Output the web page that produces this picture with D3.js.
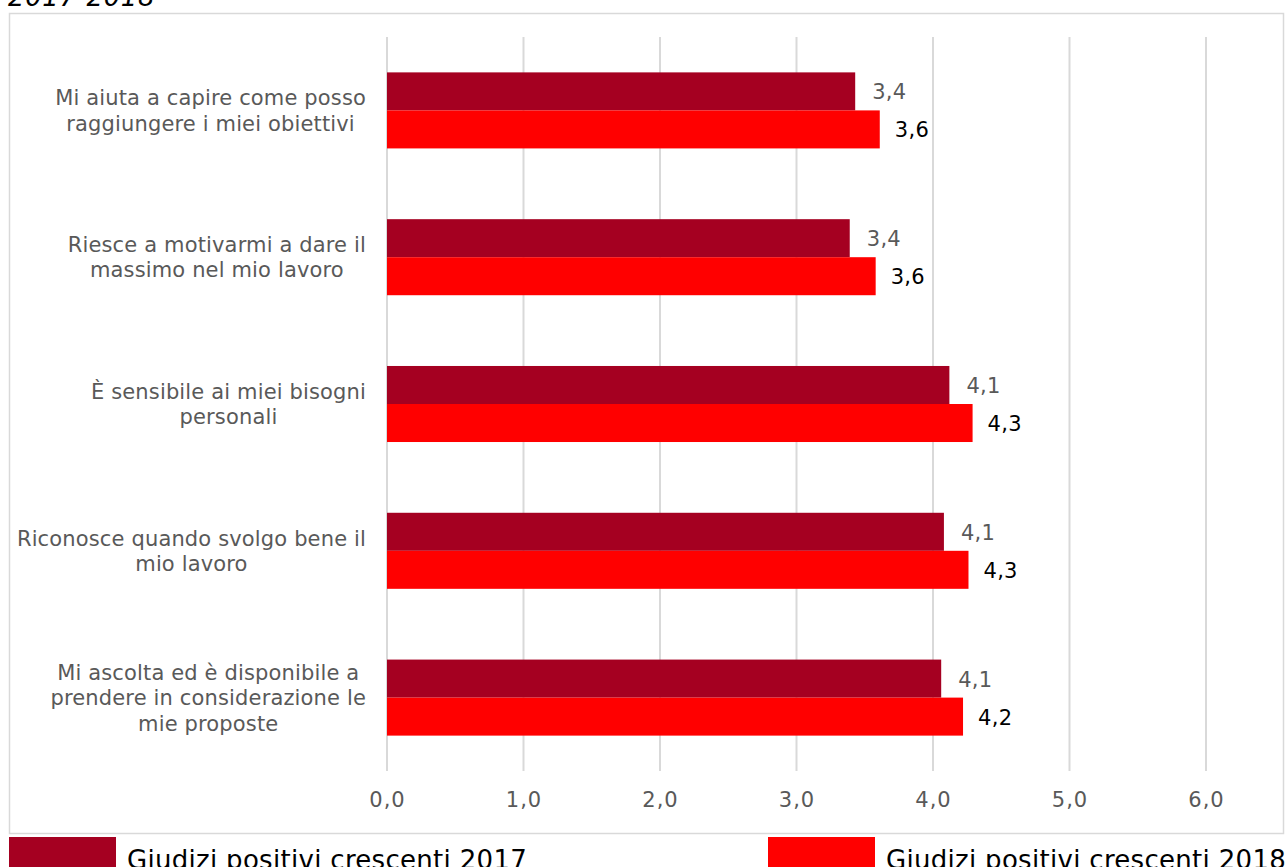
<!DOCTYPE html>
<html><head><meta charset="utf-8">
<script src="https://cdn.jsdelivr.net/npm/d3@7"></script>
<style>body{margin:0;background:#fff;}svg{display:block;font-family:"DejaVu Sans",Verdana,sans-serif;}</style>
</head><body><svg id="c" width="1286" height="867"></svg>
<script>
const categories = [
  ["Mi aiuta a capire come posso", "raggiungere i miei obiettivi"],
  ["Riesce a motivarmi a dare il", "massimo nel mio lavoro"],
  ["È sensibile ai miei bisogni", "personali"],
  ["Riconosce quando svolgo bene il", "mio lavoro"],
  ["Mi ascolta ed è disponibile a", "prendere in considerazione le", "mie proposte"]
];
const values2017 = [3.43, 3.39, 4.12, 4.08, 4.06];
const values2018 = [3.61, 3.58, 4.29, 4.26, 4.22];
const seriesNames = ["Giudizi positivi crescenti 2017", "Giudizi positivi crescenti 2018"];
const tickValues = [0, 1, 2, 3, 4, 5, 6];
const colors = ["#A50021", "#FF0000"];

const svg = d3.select("#c");
const fmt = v => d3.format(".1f")(v).replace(".", ",");

// title fragment
svg.append("text").attr("x", 8).attr("y", 6).attr("font-size", 26).attr("letter-spacing", 0.6)
  .attr("font-style", "italic").attr("fill", "#000").text("2017-2018");

// frame
svg.append("rect").attr("x", 9.5).attr("y", 13.5).attr("width", 1274).attr("height", 820).attr("fill", "none").attr("stroke", "#d9d9d9").attr("stroke-width", 1.5);

const x = d3.scaleLinear().domain([0, 6]).range([387, 1206]);
const y = d3.scaleBand().domain(d3.range(categories.length)).range([37, 771]).paddingInner(0.482).paddingOuter(0.241);
const sub = d3.scaleBand().domain([0, 1]).range([0, y.bandwidth()]);

// gridlines
svg.append("g").selectAll("line").data(tickValues).join("line")
  .attr("x1", d => x(d)).attr("x2", d => x(d)).attr("y1", 37).attr("y2", 771)
  .attr("stroke", "#d9d9d9").attr("stroke-width", 2);

// bars
const series = [values2017, values2018];
series.forEach((vals, si) => {
  const g = svg.append("g");
  g.selectAll("rect").data(vals).join("rect")
    .attr("x", x(0)).attr("y", (d, i) => y(i) + sub(si))
    .attr("width", d => x(d) - x(0)).attr("height", sub.bandwidth())
    .attr("fill", colors[si]);
  g.selectAll("text").data(vals).join("text")
    .attr("x", d => x(d) + (si === 0 ? 17 : 15)).attr("y", (d, i) => y(i) + sub(si) + sub.bandwidth() / 2 + 8)
    .attr("font-size", 21).attr("letter-spacing", 0.3).attr("fill", si === 0 ? "#595959" : "#000")
    .text(d => fmt(d));
});

// category labels: block right-aligned at 366, lines centered within block
const labelRight = x(0) - 21;
const cl = svg.append("g");
categories.forEach((lines, i) => {
  const cy = y(i) + y.bandwidth() / 2;
  const n = lines.length;
  const nodes = lines.map((ln, j) =>
    cl.append("text").attr("y", cy + (j - (n - 1) / 2) * 25.5 + 7.5)
      .attr("text-anchor", "middle").attr("font-size", 21).attr("letter-spacing", 0.15)
      .attr("fill", "#595959").text(ln));
  const maxW = d3.max(nodes, t => t.node().getComputedTextLength());
  nodes.forEach(t => t.attr("x", labelRight - maxW / 2));
});

// x axis tick labels
const ax = svg.append("g").attr("transform", "translate(0,771)")
  .call(d3.axisBottom(x).tickValues(tickValues).tickFormat(fmt).tickSize(0).tickPadding(21));
ax.select(".domain").remove();
ax.selectAll("text").attr("font-size", 21).attr("letter-spacing", 1).attr("fill", "#595959")
  .attr("font-family", "DejaVu Sans, Verdana, sans-serif");

// legend
const legX = [9, 768];
seriesNames.forEach((name, i) => {
  svg.append("rect").attr("x", legX[i]).attr("y", 837).attr("width", 107).attr("height", 32).attr("fill", colors[i]);
  svg.append("text").attr("x", legX[i] + 118).attr("y", 869).attr("font-size", 26).attr("letter-spacing", 0.3)
    .attr("fill", "#000").text(name);
});
</script></body></html>
